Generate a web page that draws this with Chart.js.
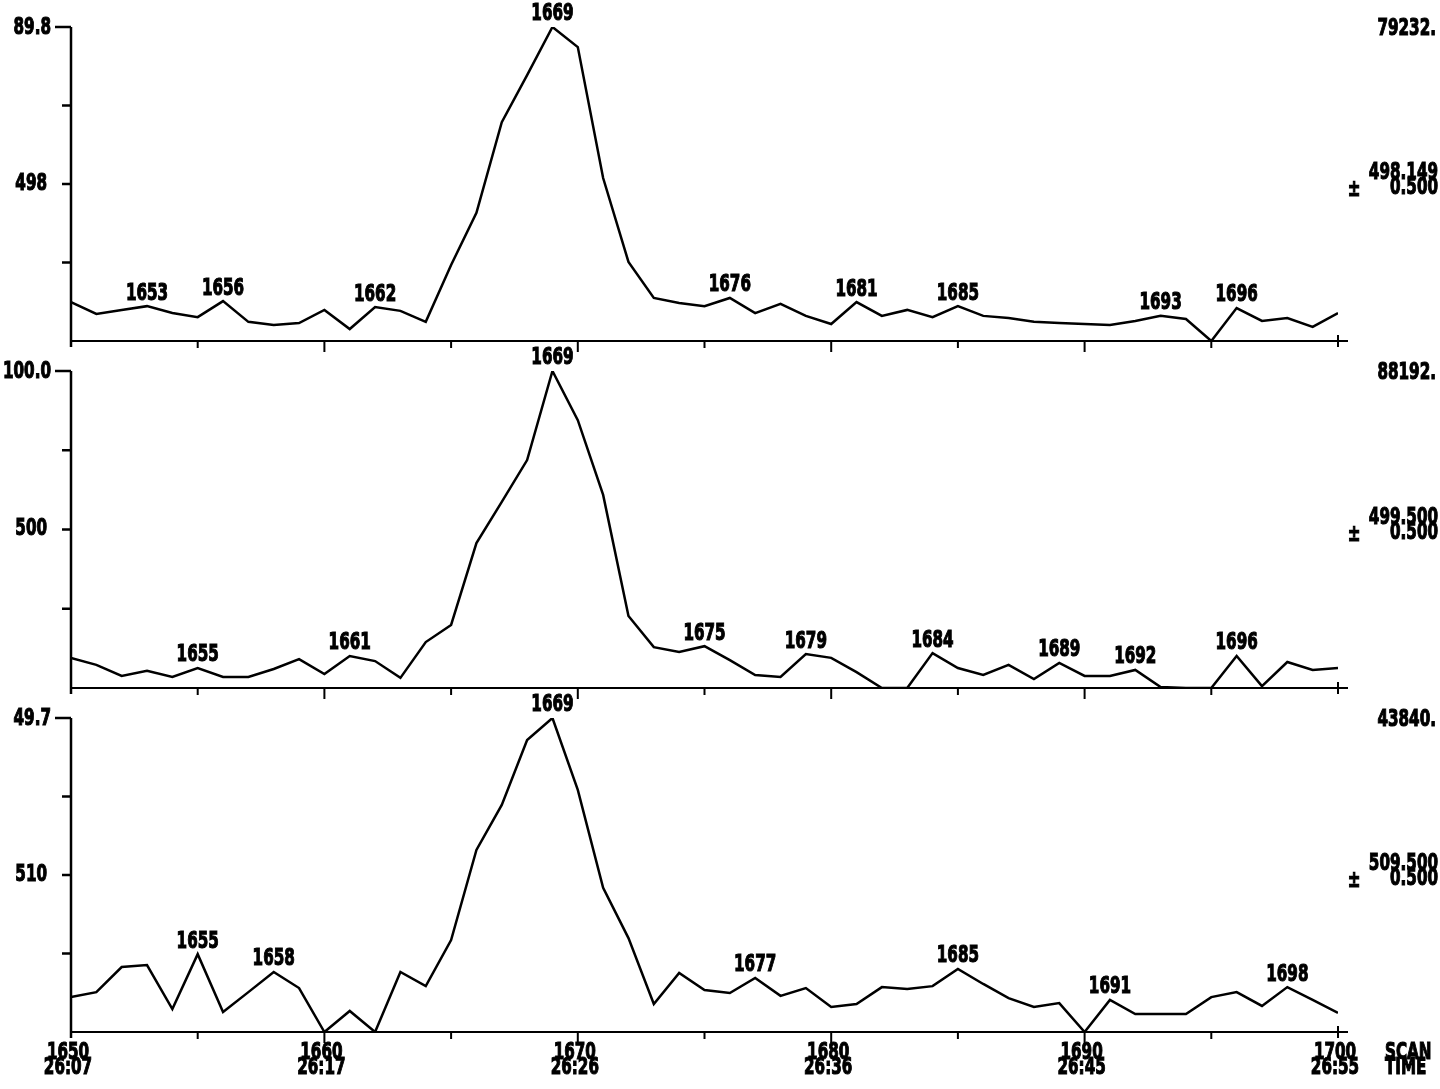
<!DOCTYPE html>
<html>
<head>
<meta charset="utf-8">
<script src="https://cdn.jsdelivr.net/npm/chart.js@4/dist/chart.umd.min.js"></script>
<style>
  body { margin: 0; background: #fff; }
  #wrap { position: relative; width: 1440px; height: 1089px; }
  canvas { position: absolute; left: 0; top: 0; }
</style>
</head>
<body>
<div id="wrap">
  <canvas id="c1" width="1440" height="1089"></canvas>
  <canvas id="c2" width="1440" height="1089"></canvas>
  <canvas id="c3" width="1440" height="1089"></canvas>
</div>
<script>
// scans 1650..1700, one point each
const scans = [];
for (let s = 1650; s <= 1700; s++) scans.push(s);

// relative intensity (%) per ion trace
const ion498 = [12.4, 8.6, 9.9, 11.1, 8.9, 7.6, 12.7, 6.1, 5.1, 5.7,
  9.9, 3.8, 10.8, 9.6, 6.1, 24.2, 40.8, 69.7, 84.7, 100,
  93.6, 51.9, 25.2, 13.7, 12.1, 11.1, 13.7, 8.9, 11.8, 8.0,
  5.4, 12.4, 8.0, 9.9, 7.6, 11.1, 8.0, 7.3, 6.1, 5.7,
  5.4, 5.1, 6.4, 8.0, 7.0, 0, 10.5, 6.4, 7.3, 4.5, 8.9];
const ion500 = [9.5, 7.3, 3.8, 5.4, 3.5, 6.3, 3.5, 3.5, 6.0, 9.1,
  4.4, 10.1, 8.5, 3.2, 14.5, 19.9, 45.7, 58.7, 71.9, 100,
  84.5, 60.9, 22.7, 12.9, 11.4, 13.2, 8.8, 4.1, 3.5, 10.7,
  9.5, 5.0, 0, 0, 11.0, 6.3, 4.1, 7.3, 2.8, 7.9,
  3.8, 3.8, 5.7, 0.3, 0, 0, 10.1, 0.6, 8.2, 5.7, 6.3];
const ion510 = [11.1, 12.7, 20.7, 21.3, 7.3, 24.8, 6.4, 12.7, 19.1, 14.0,
  0, 6.7, 0, 19.1, 14.6, 29.3, 58.0, 72.3, 93.0, 100,
  77.1, 45.9, 29.9, 8.9, 18.8, 13.4, 12.4, 17.2, 11.5, 14.0,
  8.0, 8.9, 14.3, 13.7, 14.6, 20.1, 15.3, 10.8, 8.0, 9.2,
  0, 10.2, 5.7, 5.7, 5.7, 11.1, 12.7, 8.3, 14.3, 10.2, 6.1];

// labelled peaks (scan numbers)
const peaks498 = [1653, 1656, 1662, 1669, 1676, 1681, 1685, 1693, 1696];
const peaks500 = [1655, 1661, 1669, 1675, 1679, 1684, 1689, 1692, 1696];
const peaks510 = [1655, 1658, 1669, 1677, 1685, 1691, 1698];

// axis texts
const topLabels = ["89.8", "100.0", "49.7"];
const midLabels = ["498", "500", "510"];
const totals = ["79232.", "88192.", "43840."];
const masses = ["498.149", "499.500", "509.500"];
const scanTicks = [1650, 1660, 1670, 1680, 1690, 1700];
const timeTicks = ["26:07", "26:17", "26:26", "26:36", "26:45", "26:55"];

const FONT = "bold 23px 'DejaVu Sans', sans-serif";
const SQUEEZE = 0.66;

// narrow heavy text, like the old plotter font
function txt(ctx, s, x, y, align, base) {
  ctx.save();
  ctx.font = FONT;
  ctx.textAlign = align;
  ctx.textBaseline = base;
  ctx.translate(x, y);
  ctx.scale(SQUEEZE, 1);
  ctx.lineWidth = 1.2;
  ctx.strokeStyle = "#000";
  ctx.fillText(s, 0, 0);
  ctx.strokeText(s, 0, 0);
  ctx.restore();
}

function panelPlugin(idx, peaks, values, showBottom) {
  return {
    id: "panel" + idx,
    afterDraw(chart) {
      const ctx = chart.ctx;
      const x = chart.scales.x, y = chart.scales.y;
      const left = x.getPixelForValue(1650), right = x.getPixelForValue(1700);
      const top = y.getPixelForValue(100), bot = y.getPixelForValue(0);
      const mid = y.getPixelForValue(50);
      ctx.save();
      ctx.strokeStyle = "#000";
      ctx.fillStyle = "#000";
      ctx.lineWidth = 2.5;
      // y axis
      ctx.beginPath();
      ctx.moveTo(left, top); ctx.lineTo(left, bot + 6);
      ctx.moveTo(left - 16, top); ctx.lineTo(left, top);
      [25, 50, 75].forEach(function (v) {
        const py = y.getPixelForValue(v);
        ctx.moveTo(left - 9, py); ctx.lineTo(left, py);
      });
      ctx.stroke();
      // x axis
      ctx.lineWidth = 2;
      ctx.beginPath();
      ctx.moveTo(left, bot); ctx.lineTo(right, bot);
      for (let s = 1655; s < 1700; s += 5) {
        const px = x.getPixelForValue(s);
        const len = (s % 10 === 0) ? 11 : 7;
        ctx.moveTo(px, bot); ctx.lineTo(px, bot + len);
      }
      ctx.moveTo(right, bot - 6); ctx.lineTo(right, bot + 6);
      ctx.moveTo(right - 10, bot); ctx.lineTo(right + 10, bot);
      ctx.stroke();

      txt(ctx, topLabels[idx], left - 20, top + 1, "right", "middle");
      txt(ctx, midLabels[idx], left - 24, mid, "right", "middle");
      txt(ctx, totals[idx], 1436, top + 2, "right", "middle");
      txt(ctx, masses[idx], 1438, mid - 11, "right", "middle");
      txt(ctx, "0.500", 1438, mid + 4, "right", "middle");
      txt(ctx, "\u00b1", 1354, mid + 6, "center", "middle");

      // peak labels
      peaks.forEach(function (s) {
        const v = values[s - 1650];
        txt(ctx, String(s), x.getPixelForValue(s), y.getPixelForValue(v) - 1, "center", "bottom");
      });

      if (showBottom) {
        scanTicks.forEach(function (s, i) {
          const px = x.getPixelForValue(s);
          txt(ctx, String(s), px - 3, bot + 10, "center", "top");
          txt(ctx, timeTicks[i], px - 3, bot + 25, "center", "top");
        });
        txt(ctx, "SCAN", 1385, bot + 10, "left", "top");
        txt(ctx, "TIME", 1385, bot + 25, "left", "top");
      }
      ctx.restore();
    }
  };
}

function makePanel(id, idx, values, peaks, top, bottom, showBottom) {
  new Chart(document.getElementById(id), {
    type: "line",
    data: {
      labels: scans,
      datasets: [{
        data: scans.map(function (s, i) { return { x: s, y: values[i] }; }),
        borderColor: "#000",
        borderWidth: 2.5,
        pointRadius: 0,
        tension: 0,
        fill: false
      }]
    },
    options: {
      responsive: false,
      animation: false,
      layout: { padding: { left: 71, right: 1440 - 1338, top: top, bottom: 1089 - bottom } },
      plugins: { legend: { display: false }, tooltip: { enabled: false } },
      scales: {
        x: { type: "linear", min: 1650, max: 1700, display: false },
        y: { min: 0, max: 100, display: false }
      }
    },
    plugins: [panelPlugin(idx, peaks, values, showBottom)]
  });
}

makePanel("c1", 0, ion498, peaks498, 27, 341, false);
makePanel("c2", 1, ion500, peaks500, 371, 688, false);
makePanel("c3", 2, ion510, peaks510, 718, 1032, true);
</script>
</body>
</html>
